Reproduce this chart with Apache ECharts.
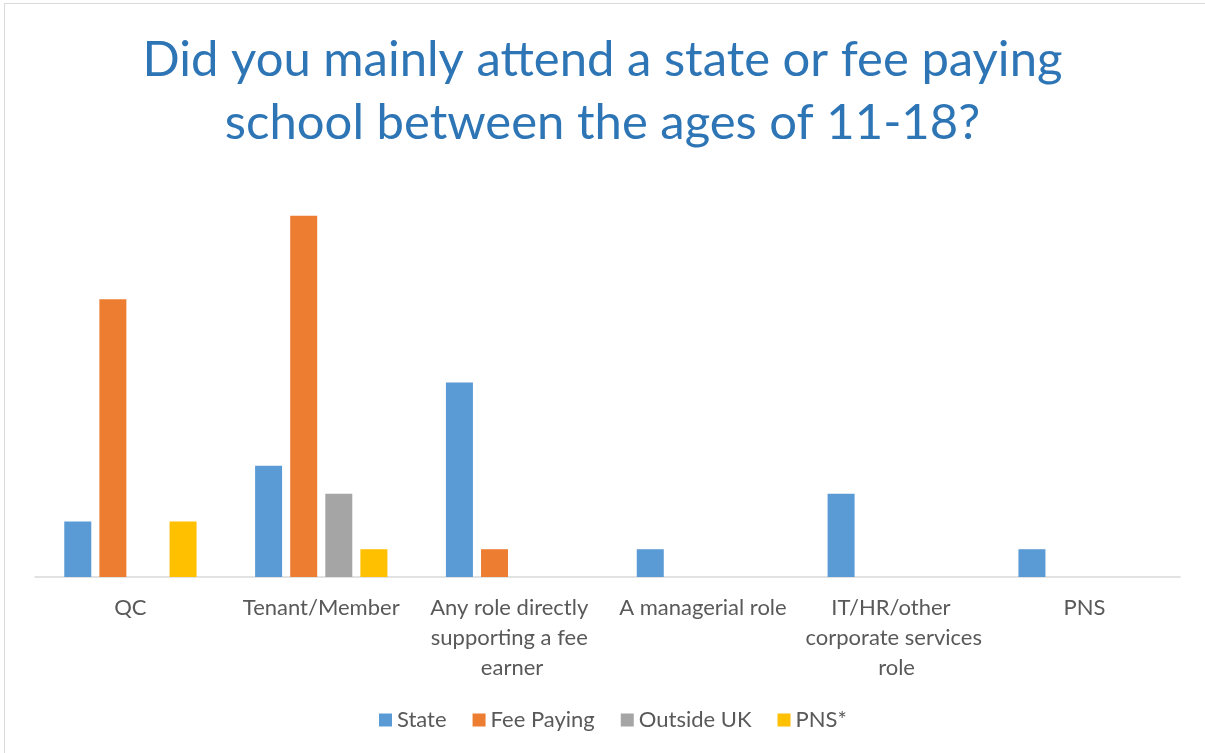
<!DOCTYPE html>
<html><head><meta charset="utf-8">
<script src="https://cdn.jsdelivr.net/npm/echarts@6/dist/echarts.min.js"></script>
<style>
html,body{margin:0;padding:0;background:#fff;}
#frame{position:absolute;left:4px;top:3px;width:1220px;height:770px;border:1.5px solid #D9D9D9;box-sizing:border-box;}
#c{position:absolute;left:0;top:0;width:1205px;height:753px;}
</style></head>
<body><div id="frame"></div><div id="c"></div>
<script>
const categories = ['QC', 'Tenant/Member', 'Any role directly supporting a fee earner', 'A managerial role', 'IT/HR/other corporate services role', 'PNS'];
const stateVals = [2, 4, 7, 1, 3, 1];
const feePayingVals = [10, 13, 1, 0, 0, 0];
const outsideUKVals = [0, 3, 0, 0, 0, 0];
const pnsVals = [2, 1, 0, 0, 0, 0];
const seriesNames = ['State', 'Fee Paying', 'Outside UK', 'PNS*'];
const colors = ['#5B9BD5', '#ED7D31', '#A5A5A5', '#FFC000'];
const font = 'Lato, "Open Sans", sans-serif';
const chart = echarts.init(document.getElementById('c'), null, {renderer:'canvas'});
const allVals = [stateVals, feePayingVals, outsideUKVals, pnsVals];
chart.setOption({
  animation:false,
  title:{text:'Did you mainly attend a state or fee paying\nschool between the ages of 11-18?', left:'center', top:24,
    textStyle:{color:'#2E75B6', fontFamily:font, fontSize:49, fontWeight:'normal', lineHeight:63}},
  legend:{bottom:17, left:374, itemWidth:13, itemHeight:13, itemGap:26, icon:'rect',
    textStyle:{color:'#595959', fontFamily:font, fontSize:22}, data:seriesNames},
  grid:{left:35, right:25, top:188, bottom:176},
  xAxis:{type:'category', data:categories,
    axisLine:{lineStyle:{color:'#D9D9D9', width:1.5}}, axisTick:{show:false},
    axisLabel:{color:'#595959', fontFamily:font, fontSize:22, lineHeight:30, margin:16, interval:0, width:178, overflow:'break'}},
  yAxis:{type:'value', min:0, max:14, show:false, splitLine:{show:false}},
  series: seriesNames.map((n,i)=>({name:n, type:'bar', data:allVals[i], barWidth:27, barGap:'30%',
    itemStyle:{color:colors[i]}}))
});
</script></body></html>
